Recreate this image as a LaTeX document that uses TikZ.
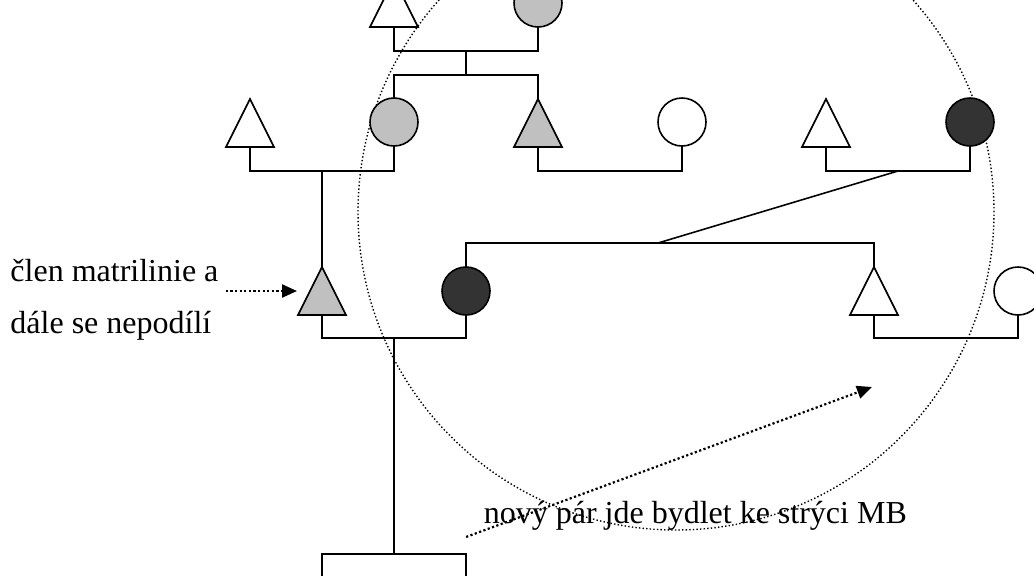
\documentclass[tikz,border=0pt]{standalone}
\usepackage{fontspec}
\setmainfont{Liberation Serif}
\usetikzlibrary{shapes.geometric,arrows.meta}
\definecolor{lgray}{RGB}{192,192,192}
\definecolor{dgray}{RGB}{51,51,51}
\tikzset{tri/.style={isosceles triangle,isosceles triangle stretches,shape border rotate=90,minimum width=24pt,minimum height=24pt,inner sep=0pt,outer sep=0pt,draw,fill=white,anchor=apex}}
\tikzset{cir/.style={circle,minimum size=24pt,inner sep=0pt,outer sep=0pt,draw,fill=white}}
\tikzset{l/.style={font=\fontsize{16}{26}\selectfont}}
\tikzset{ptr/.style={line width=1.1pt,dash pattern=on 1.1pt off 1.2pt,-{Triangle[length=7.5pt,width=6.5pt]}}}

\begin{document}
\begin{tikzpicture}[x=0.5pt,y=-0.5pt,line width=0.8pt]
            \useasboundingbox (0,0) rectangle (1034,575);
            \clip (0,0) rectangle (1034,575);
            \draw[line width=0.7pt,dash pattern=on 0.7pt off 1.1pt] (676,212) circle[radius=159pt];
            \node[tri] (A) at (394,-21) {};
            \node[cir,fill=lgray] (B) at (538,3) {};
            \node[tri] (C) at (250,99) {};
            \node[cir,fill=lgray] (D) at (394,122) {};
            \node[tri,fill=lgray] (E) at (538,99) {};
            \node[cir] (F) at (682,122) {};
            \node[tri] (G) at (826,99) {};
            \node[cir,fill=dgray] (H) at (970,122) {};
            \node[tri,fill=lgray] (I) at (322,267) {};
            \node[cir,fill=dgray] (J) at (466,291) {};
            \node[tri] (K) at (874,267) {};
            \node[cir] (L) at (1018,291) {};
            \node[draw,minimum width=72pt,minimum height=30pt,inner sep=0pt,outer sep=0pt,anchor=north] (M) at (394,554) {};
            \coordinate (ab) at (466,51);
            \coordinate (s1) at (466,75);
            \draw (A.lower side) |- (ab) -| (B.south);
            \draw (ab) -- (s1);
            \draw (D.north) |- (s1) -| (E.apex);
            \coordinate (cd) at (322,171);
            \draw (C.lower side) |- (cd) -| (D.south);
            \draw (cd) -- (I.apex);
            \coordinate (ef) at (610,171);
            \draw (E.lower side) |- (ef) -| (F.south);
            \coordinate (gh) at (898,171);
            \draw (G.lower side) |- (gh) -| (H.south);
            \coordinate (s2) at (658,243);
            \draw (gh) -- (s2);
            \draw (J.north) |- (s2) -| (K.apex);
            \coordinate (ij) at (394,338);
            \draw (I.lower side) |- (ij) -| (J.south);
            \draw (ij) -- (M.north);
            \coordinate (kl) at (946,338);
            \draw (K.lower side) |- (kl) -| (L.south);
            \node[l,anchor=west,align=left] (N) at (3,300) {člen matrilinie a\\dále se nepodílí};
            \draw[ptr,shorten >=6.5pt] (N.east |- I.left side) -- (I.left side);
            \node[l,anchor=base west,inner sep=0pt] (O) at (483,523) {nový pár jde bydlet ke strýci MB};
            \coordinate (P) at (872,387);
            \draw[ptr,shorten <=-9pt] (O.south west) -- (P);
          \end{tikzpicture}
\end{document}
